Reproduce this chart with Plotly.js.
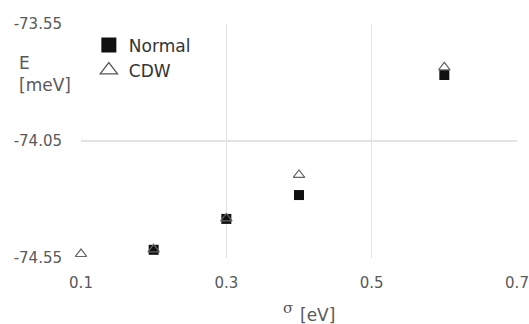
<!DOCTYPE html>
<html><head><meta charset="utf-8">
<script src="https://cdn.plot.ly/plotly-3.0.1.min.js"></script>
<style>html,body{margin:0;padding:0;background:#fff}#chart{width:529px;height:324px}</style>
</head><body><div id="chart"></div>
<script>
const sigmaNormal = [0.2, 0.3, 0.4, 0.6];
const energyNormal = [-74.515, -74.383, -74.281, -73.768];
const sigmaCDW = [0.1, 0.2, 0.3, 0.4, 0.6];
const energyCDW = [-74.533, -74.513, -74.381, -74.195, -73.735];
const seriesNames = ['Normal', 'CDW'];
const xTicks = [0.1, 0.3, 0.5, 0.7];
const yTicks = [-74.55, -74.05, -73.55];
const font = '"DejaVu Sans", sans-serif';

const normalMarker = {symbol: 'square', size: 10, color: '#111111', line: {width: 0}};
const cdwMarker = {symbol: 'triangle-up-open', size: 10, color: '#666666', line: {width: 1.2}};
const traces = [
  {x: sigmaNormal, y: energyNormal, name: seriesNames[0], type: 'scatter', mode: 'markers', cliponaxis: false,
   showlegend: false, marker: normalMarker},
  {x: sigmaCDW, y: energyCDW, name: seriesNames[1], type: 'scatter', mode: 'markers', cliponaxis: false,
   showlegend: false, marker: cdwMarker},
  // legend-only entries with larger legend symbols
  {x: [null], y: [null], name: seriesNames[0], type: 'scatter', mode: 'markers',
   marker: {symbol: 'square', size: 15, color: '#111111', line: {width: 0}}},
  {x: [null], y: [null], name: seriesNames[1], type: 'scatter', mode: 'markers',
   marker: {symbol: 'triangle-up-open', size: 15, color: '#555555', line: {width: 1.3}}}
];
const layout = {
  width: 529, height: 324,
  margin: {l: 81, r: 12, t: 24, b: 66},
  paper_bgcolor: '#fff', plot_bgcolor: '#fff',
  showlegend: true,
  legend: {x: 0.018, y: 0.985, xanchor: 'left', yanchor: 'top', bgcolor: 'rgba(0,0,0,0)',
    font: {family: font, size: 17, color: '#333'}, itemsizing: 'trace', tracegroupgap: 0, itemwidth: 30},
  xaxis: {range: [0.1, 0.7], tickvals: xTicks, ticktext: xTicks.map(v => v.toFixed(1)),
    showgrid: true, gridcolor: '#e2e2e2', gridwidth: 1.5, zeroline: false, showline: false,
    ticks: '', ticklabelstandoff: 14,
    tickfont: {family: font, size: 15, color: '#595959'}},
  yaxis: {range: [-74.55, -73.55], tickvals: yTicks, ticktext: yTicks.map(v => v.toFixed(2)),
    showgrid: true, gridcolor: '#e2e2e2', gridwidth: 1.5, zeroline: false, showline: false,
    ticks: '', ticklabelstandoff: 18,
    tickfont: {family: font, size: 15, color: '#595959'}},
  annotations: [
    {text: 'E<br>[meV]', xref: 'paper', yref: 'paper', x: -0.146, y: 0.885, xanchor: 'left', yanchor: 'top',
     showarrow: false, align: 'left', font: {family: font, size: 17, color: '#595959'}},
    {text: 'σ', xref: 'paper', yref: 'paper', x: 0.458, y: -0.212, xanchor: 'left', yanchor: 'middle',
     showarrow: false, font: {family: 'DejaVu Serif, serif', size: 15, color: '#595959'}},
    {text: '[eV]', xref: 'paper', yref: 'paper', x: 0.497, y: -0.243, xanchor: 'left', yanchor: 'middle',
     showarrow: false, font: {family: font, size: 17, color: '#595959'}}
  ]
};
Plotly.newPlot('chart', traces, layout, {displayModeBar: false, staticPlot: true});
</script></body></html>
